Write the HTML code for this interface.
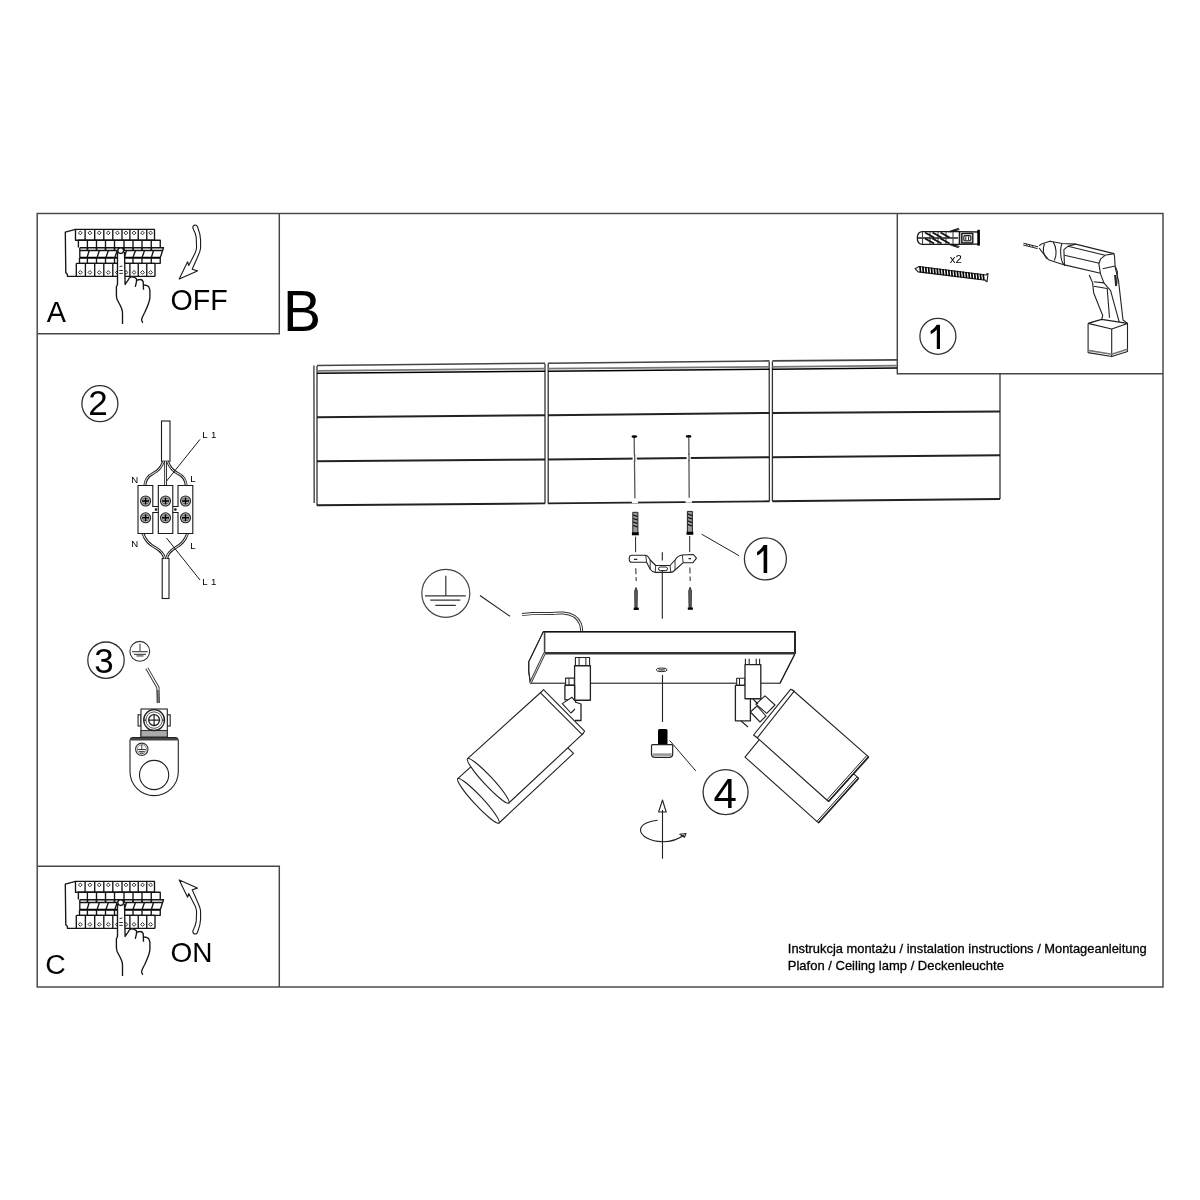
<!DOCTYPE html>
<html><head><meta charset="utf-8">
<style>
html,body{margin:0;padding:0;background:#fff;width:1200px;height:1200px;overflow:hidden}
svg{position:absolute;left:0;top:0;display:block;will-change:transform}
text{font-family:"Liberation Sans",sans-serif;fill:#000}
</style></head>
<body>
<svg width="1200" height="1200" viewBox="0 0 1200 1200">
<g fill="none" stroke="#464646" stroke-width="1.45">
  <!-- frames -->
  <rect x="37.2" y="213.5" width="1125.8" height="773.5"/>
  <polyline points="37.2,333.7 279.3,333.7 279.3,213.5"/>
  <polyline points="37.2,866.3 279.3,866.3 279.3,987"/>
  <polyline points="897.3,213.5 897.3,373.7 1163,373.7"/>
</g>

<g id="brk" fill="none" stroke="#151515" stroke-width="1.35" stroke-linejoin="round">
<path d="M75.5,229.4 L65.3,232.2 L65.8,272.8 L67.3,274.3 L67.5,276.4 L155,276.4"/>
<path d="M75.5,240.2 L75.5,229.4 L154.5,229.4 L154.5,240.2 Z"/>
<path d="M85.1,229.4 L85.1,240.2 M94.7,229.4 L94.7,240.2 M103.8,229.4 L103.8,240.2 M112.8,229.4 L112.8,240.2 M122,229.4 L122,240.2 M129.9,229.4 L129.9,240.2 M138.25,229.4 L138.25,240.2 M146.75,229.4 L146.75,240.2"/>
<path d="M78.4,247.6 L78.4,240.2 L160.25,240.2 L160.25,247.6"/>
<path d="M87.4,240.2 L87.4,247.6 M96.5,240.2 L96.5,247.6 M105.5,240.2 L105.5,247.6 M114.5,240.2 L114.5,247.6 M124,240.2 L124,247.6 M133,240.2 L133,247.6 M142,240.2 L142,247.6 M151.25,240.2 L151.25,247.6"/>
<path d="M79.8,247.7 L163.5,247.7 L160.25,257.75 M79.8,250.5 L162.6,250.5 M79.8,247.7 L79.8,257.75"/>
<path d="M79.8,257.75 L160.25,257.75" stroke-width="2.2" stroke="#000"/>
<path d="M89.2,250.5 L87.0,257.7 M99.4,250.5 L97.0,257.7 M108.4,250.5 L105.8,257.7 M117.2,250.5 L114.8,257.7 M126.5,250.5 L124.2,257.7 M135.5,250.5 L132.8,257.7 M144.5,250.5 L142.0,257.7 M153.5,250.5 L151.3,257.7"/>
<path d="M87.4,247.7 L87.4,250.5 M96.5,247.7 L96.5,250.5 M105.5,247.7 L105.5,250.5 M114.5,247.7 L114.5,250.5 M124,247.7 L124,250.5 M133,247.7 L133,250.5 M142,247.7 L142,250.5 M151.25,247.7 L151.25,250.5" stroke-width="1.8"/>
<path d="M79.5,257.75 L79.5,263.3 L160.25,263.3 L160.25,257.75"/>
<path d="M87.4,257.75 L87.4,263.3 M96.5,257.75 L96.5,263.3 M105.5,257.75 L105.5,263.3 M114.5,257.75 L114.5,263.3 M124,257.75 L124,263.3 M133,257.75 L133,263.3 M142,257.75 L142,263.3 M151.25,257.75 L151.25,263.3"/>
<path d="M76.3,263.3 L76.3,276.4 M76.3,263.3 L155,263.3 L155,276.4"/>
<path d="M85.4,263.3 L85.4,276.4 M94.7,263.3 L94.7,276.4 M103.8,263.3 L103.8,276.4 M112.8,263.3 L112.8,276.4 M122,263.3 L122,276.4 M129.9,263.3 L129.9,276.4 M138.25,263.3 L138.25,276.4 M146.75,263.3 L146.75,276.4"/>
<path d="M78.40,232.9 L80.30,231.0 L82.20,232.9 L80.30,234.8 Z M78.40,272.4 L80.30,270.5 L82.20,272.4 L80.30,274.29999999999995 Z M88.00,232.9 L89.90,231.0 L91.80,232.9 L89.90,234.8 Z M88.00,272.4 L89.90,270.5 L91.80,272.4 L89.90,274.29999999999995 Z M97.35,232.9 L99.25,231.0 L101.15,232.9 L99.25,234.8 Z M97.35,272.4 L99.25,270.5 L101.15,272.4 L99.25,274.29999999999995 Z M106.40,232.9 L108.30,231.0 L110.20,232.9 L108.30,234.8 Z M106.40,272.4 L108.30,270.5 L110.20,272.4 L108.30,274.29999999999995 Z M115.50,232.9 L117.40,231.0 L119.30,232.9 L117.40,234.8 Z M115.50,272.4 L117.40,270.5 L119.30,272.4 L117.40,274.29999999999995 Z M124.05,232.9 L125.95,231.0 L127.85,232.9 L125.95,234.8 Z M124.05,272.4 L125.95,270.5 L127.85,272.4 L125.95,274.29999999999995 Z M132.17,232.9 L134.07,231.0 L135.97,232.9 L134.07,234.8 Z M132.17,272.4 L134.07,270.5 L135.97,272.4 L134.07,274.29999999999995 Z M140.60,232.9 L142.50,231.0 L144.40,232.9 L142.50,234.8 Z M140.60,272.4 L142.50,270.5 L144.40,272.4 L142.50,274.29999999999995 Z M148.72,232.9 L150.62,231.0 L152.53,232.9 L150.62,234.8 Z M148.72,272.4 L150.62,270.5 L152.53,272.4 L150.62,274.29999999999995 Z" stroke-width="0.9"/>
<path fill="#fff" stroke="none" d="M117.5,252 L117.5,284.5 L116.4,286.8 L116.4,295 C116.6,298 117,300 117.8,300.8 C119.5,304 121.3,307 121.9,309.6 C122.4,311 122.5,312.5 122.5,313.6 L122.5,324 L142.9,324 C142.2,322 141.4,320.5 141.7,318.9 C142.5,316.5 143.6,314.5 144.7,312.5 C146,310 147.3,308 148.1,305.5 C149.3,302.5 149.9,300.5 149.9,297.9 L149.9,290.3 C149.4,287.5 148.2,286 147,285.7 C145.5,285.2 144.5,285 143.3,285 L143.2,281.6 C142.4,280 141.2,279.4 140,279.5 C138.6,279.5 137.6,280 137.1,280.6 L136.5,278.7 C134.8,277.2 133,276.6 131.2,276.9 C129.6,277.5 128.5,278.6 128.3,279.8 C127,281.5 126,283 125.1,284.5 L124.5,252 Z"/>
<circle cx="120.7" cy="250.6" r="2.9" fill="#fff"/>
<path d="M117.5,252 L117.5,284.5 L116.4,286.8 L116.4,295 C116.6,298 117,300 117.8,300.8 C119.5,304 121.3,307 121.9,309.6 C122.4,311 122.5,312.5 122.5,313.6 L122.5,324"/>
<path d="M124.5,252 L125.1,284.5 C126,283 127,281.5 128.3,279.8 C128.5,278.6 129.6,277.5 131.2,276.9 C133,276.6 134.8,277.2 136.5,278.7 L136.5,281.6 L135.3,286.8"/>
<path d="M137.1,280.4 C137.6,280 138.6,279.5 140,279.5 C141.2,279.4 142.4,280 143.2,281.6 L143.5,289.7"/>
<path d="M144.1,285 C145,285 146,285.2 147,285.7 C148.2,286 149.4,287.5 149.9,290.3 L149.9,297.9 C149.3,302.5 148.1,305.5 144.7,312.5 C143.6,314.5 142.5,316.5 141.7,318.9 C141.4,320.5 142.2,322 142.9,322.7"/>
<path d="M119.3,270.5 L122.8,270.5 M119.3,273.4 L122.8,273.4 M119.6,266.6 L122.4,266" stroke-width="0.9"/>
</g>
<g id="arr" fill="none" stroke="#1a1a1a" stroke-width="1.1" stroke-linejoin="round">
<path d="M192.8,228.1 C192.8,225.6 194,225 195.2,225 C196.6,225 197.6,226.4 198,228.2 C199.6,232 200.4,236 200.6,240 L200.6,248.2 C200.2,251.5 199,254 197.6,257 L192.2,269.3 L197.4,270.9 L179.2,279.1 L187.6,261.7 L188.7,265.5 L194.9,253.6 C196.2,250.5 196.6,248.5 196.6,247.1 L196.2,237.3 C195.6,233.6 194.4,231 192.8,228.1 Z"/>
</g>
<use href="#brk" transform="translate(0,652)"/>
<use href="#arr" transform="translate(0,1159) scale(1,-1)"/>

<!-- box 2 wiring -->
<g fill="none" stroke="#1a1a1a" stroke-width="1.1">
  <rect x="161.5" y="421" width="8.5" height="40.2"/>
  <rect x="162.2" y="558.5" width="6.8" height="40"/>
  <g stroke="#222" stroke-width="2.8">
    <path d="M163.5,461.5 C161,468 158,471 153,473.5 C148,476 145.5,479 144.8,485.5"/>
    <path d="M165.6,461.5 L165.6,485.5"/>
    <path d="M167.6,461.5 C170,468 173,471 178,473.5 C183,476 185.6,479 186.2,485.5"/>
    <path d="M143,533.5 C145,540 150,545 156,548 C161,551 163.5,554 164.6,558.5"/>
    <path d="M187.5,533.5 C185.5,540 181,545 175,548 C170,551 167.5,554 166.6,558.5"/>
  </g>
  <g stroke="#fff" stroke-width="1.0">
    <path d="M163.5,461.5 C161,468 158,471 153,473.5 C148,476 145.5,479 144.8,485.5"/>
    <path d="M165.6,461.5 L165.6,485.5"/>
    <path d="M167.6,461.5 C170,468 173,471 178,473.5 C183,476 185.6,479 186.2,485.5"/>
    <path d="M143,533.5 C145,540 150,545 156,548 C161,551 163.5,554 164.6,558.5"/>
    <path d="M187.5,533.5 C185.5,540 181,545 175,548 C170,551 167.5,554 166.6,558.5"/>
  </g>
  <path d="M166.6,481 L200,439.4 M166.5,538 L200,580" stroke-width="1"/>
  <path fill="#fff" d="M138,485.5 L152.8,485.5 L152.8,506.5 L158.3,506.5 L158.3,485.5 L172.8,485.5 L172.8,506.5 L178,506.5 L178,485.5 L192.8,485.5 L192.8,533.5 L178,533.5 L178,512.5 L172.8,512.5 L172.8,533.5 L158.3,533.5 L158.3,512.5 L152.8,512.5 L152.8,533.5 L138,533.5 Z"/>
  <path d="M158.3,506.5 L158.3,512.5 M172.8,506.5 L172.8,512.5"/>
  <circle cx="156" cy="509.5" r="0.8" fill="#000"/>
  <circle cx="175.4" cy="509.5" r="0.8" fill="#000"/>
<circle cx="145.6" cy="501" r="5" fill="#bbb" stroke="#222" stroke-width="1.1"/>
<circle cx="145.6" cy="501" r="3.2" fill="none" stroke="#555" stroke-width="0.8"/>
<path d="M142.29999999999998,501 L148.9,501 M145.6,497.7 L145.6,504.3" stroke="#000" stroke-width="1.5"/>
<circle cx="145.6" cy="517.8" r="5" fill="#bbb" stroke="#222" stroke-width="1.1"/>
<circle cx="145.6" cy="517.8" r="3.2" fill="none" stroke="#555" stroke-width="0.8"/>
<path d="M142.29999999999998,517.8 L148.9,517.8 M145.6,514.5 L145.6,521.0999999999999" stroke="#000" stroke-width="1.5"/>
<circle cx="165.5" cy="501" r="5" fill="#bbb" stroke="#222" stroke-width="1.1"/>
<circle cx="165.5" cy="501" r="3.2" fill="none" stroke="#555" stroke-width="0.8"/>
<path d="M162.2,501 L168.8,501 M165.5,497.7 L165.5,504.3" stroke="#000" stroke-width="1.5"/>
<circle cx="165.5" cy="517.8" r="5" fill="#bbb" stroke="#222" stroke-width="1.1"/>
<circle cx="165.5" cy="517.8" r="3.2" fill="none" stroke="#555" stroke-width="0.8"/>
<path d="M162.2,517.8 L168.8,517.8 M165.5,514.5 L165.5,521.0999999999999" stroke="#000" stroke-width="1.5"/>
<circle cx="185.5" cy="501" r="5" fill="#bbb" stroke="#222" stroke-width="1.1"/>
<circle cx="185.5" cy="501" r="3.2" fill="none" stroke="#555" stroke-width="0.8"/>
<path d="M182.2,501 L188.8,501 M185.5,497.7 L185.5,504.3" stroke="#000" stroke-width="1.5"/>
<circle cx="185.5" cy="517.8" r="5" fill="#bbb" stroke="#222" stroke-width="1.1"/>
<circle cx="185.5" cy="517.8" r="3.2" fill="none" stroke="#555" stroke-width="0.8"/>
<path d="M182.2,517.8 L188.8,517.8 M185.5,514.5 L185.5,521.0999999999999" stroke="#000" stroke-width="1.5"/>
</g>
<g font-size="9.6">
<text x="131.3" y="482.5">N</text>
<text x="190.2" y="482.2">L</text>
<text x="131.3" y="546.6">N</text>
<text x="190.2" y="549">L</text>
<text x="202.2" y="437.6">L</text><text x="211" y="437.6">1</text>
<text x="202.2" y="585">L</text><text x="211" y="585">1</text>
</g>

<!-- box 3 ground -->
<g fill="none" stroke="#222" stroke-width="1.1">
  <circle cx="139.8" cy="651.3" r="9.9" stroke="#333"/>
  <path d="M140,643.7 L140,651.7 M132,651.7 L147.8,651.7 M134,654.3 L146,654.3" stroke="#555" stroke-width="1.2"/>
  <path d="M136.5,655.9 L143.5,655.9" stroke="#777" stroke-width="1.6"/>
  <path d="M146.8,668.2 L157.9,687.4 L158.3,703" stroke="#333" stroke-width="3.2"/>
  <path d="M146.8,668.2 L157.9,687.4 L158.1,690" stroke="#fff" stroke-width="1.3"/>
  <path d="M158.2,690 L158.4,703" stroke="#777" stroke-width="1.6"/>
  <path fill="#fff" d="M130,741 Q130,737.6 133,737.6 L175.3,737.6 Q178.3,737.6 178.3,741 L178.3,771.5 A24.15,24.15 0 0 1 130,771.5 Z"/>
  <path d="M130.5,739.2 L177.8,739.2" stroke="#444" stroke-width="2.6"/>
  <circle cx="154.1" cy="775" r="14.6"/>
  <circle cx="141.8" cy="749.3" r="6.2" stroke="#333"/>
  <circle cx="141.8" cy="749.3" r="4.6" stroke="#777" stroke-width="0.9"/>
  <path d="M141.8,744.8 L141.8,749.5 M137.8,749.5 L145.8,749.5 M138.8,751.4 L144.8,751.4 M140,753 L143.6,753" stroke-width="0.9"/>
  <rect x="138.1" y="714.8" width="2.9" height="11.2" fill="#fff"/>
  <rect x="167.3" y="714.8" width="2.9" height="11.2" fill="#fff"/>
  <rect x="141" y="709" width="26.3" height="28" fill="#fff"/>
  <rect x="141" y="730.5" width="26.3" height="6.5" fill="#aaa" stroke="#333"/>
  <circle cx="154.1" cy="720.1" r="10.4" stroke-width="1.3"/>
  <circle cx="154.1" cy="720.1" r="8.2" stroke="#555" stroke-width="1"/>
  <circle cx="154.1" cy="720.1" r="5.4" stroke-width="1.3"/>
  <path d="M148,720.1 L160.2,720.1 M154.1,714 L154.1,726.2" stroke-width="1.2"/>
  <path d="M143.7,720.1 L146,720.1 M162.2,720.1 L164.5,720.1" stroke-width="1.3"/>
</g>
<!-- box 1 tools -->
<g fill="none" stroke="#1a1a1a" stroke-width="1.3" stroke-linejoin="round">
  <path fill="#fff" d="M917.3,238 C917.3,234.5 919,232 922,231.6 L958.5,231.6 L978.6,232 L978.6,244 L958.5,244.4 L922,244.4 C919,244 917.3,241.5 917.3,238 Z"/>
  <path d="M978.6,229.8 L978.6,245.6" stroke-width="2.6" stroke="#000"/>
  <path d="M917.5,238 L958,238" stroke-width="1.4"/>
  <path d="M922.5,232 L922.5,244 M930,232 L930,244 M938,232 L938,244 M946,232 L946,244 M953,232 L953,244" stroke-width="1.1" stroke="#444"/>
  <path d="M925,232.5 L934,237.5 M932.5,232.5 L941.5,237.5 M940.5,232.5 L949.5,237.5 M925,238.5 L934,243.5 M932.5,238.5 L941.5,243.5 M940.5,238.5 L949.5,243.5" stroke-width="1.8" stroke="#111"/>
  <path d="M948,232 L958.8,228.3 M950,231.8 L959.5,229.5 M948,244 L958.8,247.8 M950,244.2 L959.5,246.5" stroke-width="1.2"/>
  <path d="M959.5,231.2 L959.5,244.8" stroke-width="1.6"/>
  <rect x="961.8" y="233.4" width="11" height="9.6" stroke-width="1.4" fill="#ccc"/>
  <rect x="963.8" y="235.6" width="7" height="5.2" rx="1.5" stroke-width="1.1" fill="#fff"/>
  <path d="M965.8,236.5 L965.8,240 M968.6,236.5 L968.6,240" stroke-width="1"/>
</g>
<text x="949.8" y="263.2" font-size="11.4">x2</text>
<g transform="translate(951.3,273.2) rotate(7.1)">
  <path d="M-36.5,0 L-33,-2.6 L35,-2.6 L35.5,-4 L36.5,-4 L36.5,4 L35.5,4 L35,2.8 L-33,2.8 Z" fill="#fff" stroke="#222" stroke-width="1.1"/>
  <path d="M-32.0,-3 L-30.6,3 M-29.1,-3 L-27.7,3 M-26.2,-3 L-24.8,3 M-23.3,-3 L-21.9,3 M-20.4,-3 L-19.0,3 M-17.5,-3 L-16.1,3 M-14.6,-3 L-13.2,3 M-11.7,-3 L-10.3,3 M-8.8,-3 L-7.4,3 M-5.9,-3 L-4.5,3 M-3.0,-3 L-1.6,3 M-0.1,-3 L1.3,3 M2.8,-3 L4.2,3 M5.7,-3 L7.1,3 M8.6,-3 L10.0,3 M11.5,-3 L12.9,3 M14.4,-3 L15.8,3 M17.3,-3 L18.7,3 M20.2,-3 L21.6,3 M23.1,-3 L24.5,3 M26.0,-3 L27.4,3 M28.9,-3 L30.3,3 M31.8,-3 L33.2,3" stroke="#000" stroke-width="1.7"/>
</g>
<g fill="none" stroke="#222" stroke-width="1.1" stroke-linejoin="round">
<path d="M1023.4,243.2 L1038,246.8 M1023.2,245 L1037.6,248.6" stroke-width="1"/>
<path d="M1026,243.8 L1027,245.8 M1029,244.5 L1030,246.5 M1032,245.2 L1033,247.2" stroke-width="0.8"/>
<path d="M1039.2,245.7 1041.4,244.1 1049.9,241.2 1052.1,241.8"/>
<path d="M1039.2,248.0 1042.0,251.9 1048.7,259.8 1052.1,260.9"/>
<path d="M1044.5,243.7 C1042.6,248.6 1042.9,254.2 1047.1,259.0"/>
<path d="M1053.2,242.1 C1056.8,246.9 1056.8,255.9 1054.4,260.6"/>
<path d="M1049.9,241.2 1062.2,243.5 1075.7,244.1 1114.0,253.6 1114.6,257.0"/>
<path d="M1052.1,260.9 1064.5,264.9 1100.5,273.3"/>
<path d="M1062.0,243.5 C1060.0,248.0 1060.0,259.2 1063.6,264.4"/>
<path d="M1075.7,244.1 1067.9,246.3 1063.9,249.7 1064.5,266.0"/>
<path d="M1067.9,246.3 1105.0,255.3 1114.0,253.6"/>
<path d="M1064.5,255.3 1099.4,263.2"/>
<path d="M1105.0,255.3 1100.5,259.2 1098.8,263.7 1100.5,273.9"/>
<path d="M1114.6,257.0 1115.1,266.0 1102.7,268.8"/>
<path d="M1115.1,266.0 1117.4,271.6 1116.8,284.0"/>
<path d="M1089.2,275.0 1092.6,282.9 1093.7,293.0 1102.7,315.5 1101.6,320.0 1089.8,322.8"/>
<path d="M1100.5,273.9 1103.9,282.9 1093.7,281.7"/>
<path d="M1103.9,282.9 1110.6,290.7 1114.0,303.1 1119.6,323.4"/>
<path d="M1093.7,286.2 1107.2,288.5 1109.5,317.7"/>
<path d="M1115.1,267.1 1118.5,280.6 1123.0,320.0 1127.5,323.4"/>
<path d="M1115.1,275.0 1116.2,286.2" stroke-width="2"/>
<path fill="#fff" d="M1088.1,323.4 1101.6,319.4 1127.5,323.4 1111.7,329.0 1088.1,323.4"/>
<path d="M1088.1,323.4 1088.1,352.6 1111.7,356.5 1127.5,351.5 1127.5,323.4"/>
<path d="M1111.7,329.0 1111.7,356.5"/>
<path d="M1088.1,350.4 1111.7,354.3 1127.5,349.2" stroke="#777" stroke-width="1.6"/>
</g>

<!-- lamp assembly -->
<g fill="none" stroke="#222" stroke-width="1.1" stroke-linejoin="round">
  <!-- drill lines through ceiling -->
  <path d="M634.2,438 L634.9,498.5 M688.8,438 L689.2,497.8" stroke="#555" stroke-width="1.3"/>
  <ellipse cx="634.35" cy="436.6" rx="2.9" ry="1.3" fill="#000" stroke="none"/>
  <ellipse cx="688.6" cy="436.4" rx="2.9" ry="1.3" fill="#000" stroke="none"/>
  <!-- wall plugs -->
  <g stroke="#222" stroke-width="1">
    <rect x="632.8" y="512.3" width="5.1" height="21" fill="#999"/>
    <path d="M633.3,515 L637.4,516.5 M633.3,518.5 L637.4,520 M633.3,522 L637.4,523.5 M633.3,525.5 L637.4,527" stroke="#000" stroke-width="1.2"/>
    <path d="M631.9,533.8 L638.8,533.8" stroke="#000" stroke-width="3"/>
    <rect x="687.4" y="511.4" width="5" height="21" fill="#999"/>
    <path d="M687.9,514 L692,515.5 M687.9,517.5 L692,519 M687.9,521 L692,522.5 M687.9,524.5 L692,526" stroke="#000" stroke-width="1.2"/>
    <path d="M686.5,533.3 L693.3,533.3" stroke="#000" stroke-width="3"/>
  </g>
  <path d="M635.6,536.6 L635.6,552.2 M689.7,536 L689.7,552" stroke-width="1"/>
  <path d="M635.8,568.2 L636.2,581 M689.9,567.5 L690.2,581" stroke-width="1" stroke-dasharray="6 3"/>
  <!-- bracket -->
  <path fill="#fff" d="M631.9,555.2 L645.7,555.2 C647.5,555.5 649,557.5 650.2,560 L655.7,565.5 L670,565.5 L675,560 C677,557 679.5,555.2 682.3,555 L693.3,554.5 L696.5,558.2 L692.9,562.7 L683.2,562.7 L675,570 C673.5,571.5 672.5,572.4 670.9,572.4 L655.3,572.4 C653,572.4 651.5,571 650.2,569.2 L646.6,562.3 L631.5,562.3 C629.8,562.3 629.2,560 629.2,558.7 C629.2,556.8 630.4,555.2 631.9,555.2 Z"/>
  <path d="M645.7,555.2 L646.6,562.3 M682.3,555 L683.2,562.7 M650.2,560 L650.2,569.2 M655.7,565.5 L655.3,572.4 M670,565.5 L670.9,572.4 M675,560 L675,570" stroke-width="0.9"/>
  <path d="M634,559.3 L637.3,559.3 M688.5,558.6 L691,558.6" stroke-width="1.3"/>
  <rect x="658.5" y="567" width="9" height="3.6" rx="1.8" stroke-width="1"/>
  <path d="M662.3,552.2 L662.3,560.5 M662.3,570 L662.3,618.8" stroke-width="1.1"/>
  <!-- screws below bracket -->
  <path d="M636,587.5 L634.7,591 L634.9,607.5 L637.1,607.5 L637.3,591 Z" fill="#666" stroke-width="0.9"/>
  <path d="M633.7,608.8 L638.8,608.8" stroke="#000" stroke-width="2.4"/>
  <path d="M690.1,587.2 L688.8,590.7 L689,607.3 L691.2,607.3 L691.4,590.7 Z" fill="#666" stroke-width="0.9"/>
  <path d="M687.8,608.6 L692.9,608.6" stroke="#000" stroke-width="2.4"/>
  <!-- leader 1 -->
  <path d="M701.7,534.2 L739.2,555.8" stroke-width="1"/>
  <!-- ground symbol -->
  <circle cx="445.8" cy="593.3" r="24" stroke="#444" stroke-width="1.2"/>
  <path d="M445.8,575.8 L445.8,595.8 M425,595.8 L465.8,595.8 M430.3,600.2 L460.3,600.2 M435.3,605.3 L455.8,605.3" stroke="#333" stroke-width="1.2"/>
  <path d="M480,595.5 L510,616.3" stroke-width="1.1"/>
  <!-- cable -->
  <path d="M522,614.6 L532.5,613.6 L553.3,613.4 C558,613 560,612.8 563,613 C572,613.5 578,618 580.5,624 C581.3,626.5 581.6,628.5 581.7,631.5" stroke="#333" stroke-width="3"/>
  <path d="M522,614.6 L532.5,613.6 L553.3,613.4 C558,613 560,612.8 563,613 C572,613.5 578,618 580.5,624 C581.3,626.5 581.6,628.5 581.7,631.5" stroke="#fff" stroke-width="1.1"/>
  <!-- base bar -->
  <path fill="#fff" d="M543.3,631.7 L795,631.7 L795,653.75 L780,683.3 L530.4,683.3 L528.75,671.7 L528.75,661.7 Z"/>
  <path d="M543.3,631.7 L795,631.7 L795,653.75" stroke="#111" stroke-width="1.6"/>
  <path d="M544.6,653.3 L795,653.3" stroke="#333" stroke-width="2.4"/>
  <path d="M544.6,631.7 L544.6,653.3" stroke="#444" stroke-width="1.6"/>
  <path d="M543.3,631.7 L528.75,661.7 L528.75,671.7 L530.4,682.9" stroke-width="1"/>
  <path d="M544.6,653.3 L530.4,682.9" stroke="#333" stroke-width="2.6"/>
  <path d="M544.6,653.3 L530.4,682.9" stroke="#fff" stroke-width="0.8"/>
  <path d="M530.4,683.3 L780,683.3" stroke="#555" stroke-width="0.9"/>
  <path d="M794.6,654.5 L780,683.3" stroke-width="1.1"/>
  <ellipse cx="661.7" cy="669.8" rx="5.5" ry="1.8" stroke-width="1"/>
  <ellipse cx="661.7" cy="669.8" rx="3.5" ry="0.9" fill="#666" stroke="none"/>
  <path d="M662.5,675 L662.5,722" stroke-width="1.1"/>
  <!-- bolt -->
  <rect x="658" y="729" width="9.5" height="16" rx="1.5" fill="#000" stroke="none"/>
  <path fill="#fff" d="M652.5,744.6 L671.7,744.6 Q672.7,744.6 672.7,746 L672.7,754 Q672.7,757.4 669,757.4 L655,757.4 Q651.5,757.4 651.5,754 L651.5,746 Q651.5,744.6 652.5,744.6 Z" stroke-width="1.2"/>
  <path d="M652.5,754.6 L671.7,754.6" stroke="#999" stroke-width="2.6"/>
  <path d="M669.6,740.4 L695.8,770.9" stroke-width="1"/>
  <!-- rotation arrow -->
  <path d="M662.5,810 L662.5,858.7" stroke-width="1.1"/>
  <path d="M662.5,800 L658.6,812 L666.2,812 Z" stroke-width="1.1"/>
  <path d="M657.6,820.2 C650,821 641,824 640.5,829.7 C640.5,836 650,841.5 662.5,841.7 C672,841.7 679,839 684,835" stroke-width="1.1"/>
  <path d="M686,833.5 L679.8,834.2 L684.5,837.3 Z" stroke-width="1.1"/>
</g>
<!-- spotlights --><g fill="none" stroke="#222" stroke-width="1.1" stroke-linejoin="round">
<rect x="575.4" y="657.5" width="14.2" height="8.25" fill="#fff"/>
<path d="M579.1,657.8 L579.1,665.5 M585.9,657.8 L585.9,665.5" stroke-width="1"/>
<rect x="574.6" y="665.75" width="15.8" height="34.5" fill="#fff" stroke-width="1.3"/>
<rect x="565.6" y="678.1" width="8.7" height="7.15" fill="#fff"/>
<path d="M569,678.3 L569,685" stroke-width="1"/>
<rect x="564.9" y="685.25" width="9.7" height="14.6" fill="#fff" stroke-width="1.3"/>
<polygon points="562.30,703.60 572.00,697.30 578.80,705.50 570.90,713.00" fill="#fff"/>
<path d="M575,702 L581,704 L581,720.5 L575,720.5" fill="#fff" stroke-width="1.3"/>
<rect x="736.7" y="678.3" width="8.3" height="7.1" fill="#fff"/>
<path d="M739.5,678.5 L739.5,685.2" stroke-width="1"/>
<rect x="735.4" y="685.4" width="15" height="35.4" fill="#fff" stroke-width="1.3"/>
<path d="M745.4,658.75 L745.4,664.6 M749.2,658.75 L749.2,664.6 M756.25,658.75 L756.25,664.6 M759.6,658.75 L759.6,664.6" stroke-width="1.1"/>
<rect x="745" y="664.6" width="15.8" height="34.15" fill="#fff" stroke-width="1.3"/>
<polygon points="755.80,704.20 765.00,695.80 775.00,705.00 766.70,713.30" fill="#fff"/>
<polygon points="750.40,712.00 757.00,706.00 766.00,716.00 760.00,722.00" fill="#fff"/>
<path d="M753,699 L758,704 M741,721 L748,727" stroke-width="1.1"/>
<polygon points="531.45,712.00 573.50,753.30 499.00,823.00 457.80,778.70" fill="#fff"/>
<ellipse cx="478.40" cy="800.85" rx="30.25" ry="4.6" transform="rotate(47.08 478.40 800.85)" fill="#fff" stroke-width="1.1"/>
<polygon points="541.25,692.00 583.30,733.30 508.80,803.00 467.60,758.70" fill="#fff"/>
<ellipse cx="488.20" cy="780.85" rx="30.25" ry="4.6" transform="rotate(47.08 488.20 780.85)" fill="#fff" stroke-width="1.1"/>
<polygon points="543.50,689.60 584.60,731.20 582.20,734.60 540.50,692.80" fill="#fff" stroke-width="1.1"/>
<polygon points="782.50,711.30 858.60,778.20 818.50,822.80 745.00,757.10" fill="#fff"/>
<path d="M857.00,776.80 L816.90,821.40" stroke-width="1"/>
<polygon points="792.50,690.00 868.60,756.90 828.50,801.50 755.00,735.80" fill="#fff"/>
<path d="M866.90,755.40 L826.80,800.00" stroke-width="1"/>
<path d="M868.60,756.90 L828.50,801.50" stroke-width="1.6"/>
<path d="M858.60,778.20 L818.50,822.80" stroke-width="1.6"/>
<polygon points="790.80,689.20 794.20,691.20 757.30,737.80 753.60,735.00" fill="#fff" stroke-width="1.1"/>
</g>
<!-- ceiling panels -->
<g fill="none" stroke="#222" stroke-width="1.95">
  <!-- verticals -->
  <path d="M313.9,365.5 L314.2,503 M317,366 L317,505.5 M545,363.8 L545,503.4 M548.2,363.5 L548.2,503.4 M769.2,361.5 L769.4,501.3 M772.4,361.5 L772.4,501.3 M1000,373.7 L1000,499" stroke="#333" stroke-width="1.3"/>
  <!-- panel 1 -->
  <path d="M317,365.5 L545,363.2" stroke="#444" stroke-width="1.6"/>
  <path d="M317,370.8 L545,368.6" stroke="#777" stroke-width="1.8"/>
  <path d="M317,373.2 L545,371.2" stroke="#000" stroke-width="1.5"/>
  <path d="M317,417.3 L545,415.2 M317,461.3 L545,459.5 M317,505.2 L545,503.4"/>
  <!-- panel 2 -->
  <path d="M548,363.2 L769.4,360.9" stroke="#444" stroke-width="1.6"/>
  <path d="M548,368.6 L769.4,366.9" stroke="#777" stroke-width="1.8"/>
  <path d="M548,371.2 L769.4,369.2" stroke="#000" stroke-width="1.5"/>
  <path d="M548,415.2 L769.5,413 M548,459.5 L769.5,457.2 M548,503.4 L769.5,501.3"/>
  <!-- panel 3 -->
  <path d="M772.4,360.9 L897,359.9" stroke="#444" stroke-width="1.6"/>
  <path d="M772.4,366.9 L897,365.6" stroke="#777" stroke-width="1.8"/>
  <path d="M772.4,369.2 L897,368.1" stroke="#000" stroke-width="1.5"/>
  <path d="M772.4,413 L1000,411.5 M772.4,457.2 L1000,455.2 M772.4,501.3 L1000,499"/>
</g>

<!-- numbered circles -->
<g fill="none" stroke="#333" stroke-width="1.3">
  <circle cx="99.9" cy="403.7" r="18"/>
  <circle cx="106" cy="660.2" r="18.2"/>
  <circle cx="937.9" cy="336.3" r="18"/>
  <circle cx="765.4" cy="558.9" r="21"/>
  <circle cx="725.6" cy="792.1" r="22.5"/>
</g>
<text x="88.3" y="415.2" font-size="35">2</text>
<text x="94.3" y="672.9" font-size="35">3</text>
<path d="M936.8,324.7 L940,324.7 L940,349 L936.8,349 L936.8,329.5 C935,331.5 932.8,333.2 930.8,334.2 L930.5,331 C933,329.5 935.3,327.2 936.8,324.7 Z" fill="#000"/>
<path d="M763.6,545 L767.2,545 L767.2,573 L763.6,573 L763.6,550.5 C761.6,552.8 759.2,554.6 757.2,555.6 L757,552 C759.6,550.4 762,548 763.6,545 Z" fill="#000"/>
<text x="713.6" y="807.9" font-size="42">4</text>

<!-- gaps where drill lines cross ceiling lines -->
<g fill="#fff" stroke="none">
  <rect x="632.6" y="455.5" width="4.2" height="5"/>
  <rect x="686.6" y="455" width="4.2" height="5"/>
  <rect x="631.9" y="498.6" width="6" height="4.5"/>
  <rect x="685.5" y="498.2" width="6.4" height="4.5"/>
</g>
<path d="M634.65,454 L634.75,461.5 M688.95,453.5 L689.05,461" stroke="#555" stroke-width="1.3"/>
<!-- letters -->
<text x="46.8" y="321.7" font-size="28.8">A</text>
<text x="45.3" y="974.3" font-size="28.4">C</text>
<text x="170.6" y="309.6" font-size="28.6">OFF</text>
<text x="170.4" y="961.9" font-size="28">ON</text>
<text x="283" y="330.7" font-size="57">B</text>
<text x="787.8" y="952.6" font-size="12.9" stroke="#000" stroke-width="0.3">Instrukcja montażu / instalation instructions / Montageanleitung</text>
<text x="787.8" y="969.6" font-size="13" stroke="#000" stroke-width="0.3">Plafon / Ceiling lamp / Deckenleuchte</text>
</svg>
</body></html>
